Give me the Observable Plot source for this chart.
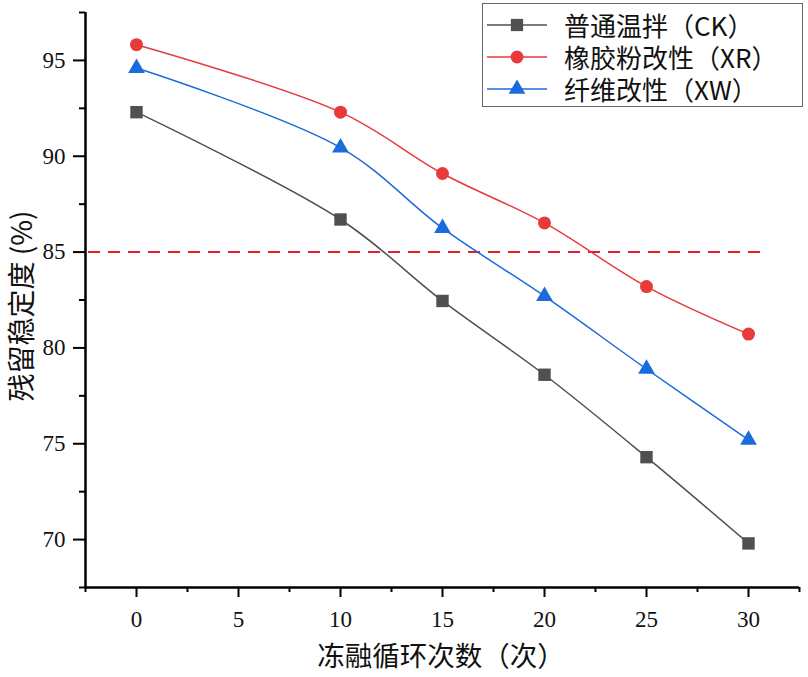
<!DOCTYPE html>
<html>
<head>
<meta charset="utf-8">
<script src="https://cdn.jsdelivr.net/npm/d3@7"></script>
<script src="https://cdn.jsdelivr.net/npm/@observablehq/plot@0.6"></script>
<style>
  body { margin: 0; background: #fff; }
  #wrap { position: relative; width: 808px; height: 677px; }
  #legend { position: absolute; left: 482px; top: 3px; width: 321px; height: 104px; border: 1.5px solid #666; box-sizing: border-box; background: #fff;
    font-family: "Noto Sans CJK SC", sans-serif; font-size: 26px; color: #111; }
  .row { position: absolute; left: 0; height: 30px; display: flex; align-items: center; }
  .row svg { margin-left: 3px; flex: none; }
  .row span { margin-left: 16px; white-space: nowrap; line-height: 28px; display: inline-block; }
</style>
</head>
<body>
<div id="wrap"><div id="chart"></div><div id="legend"></div></div>
<script>
const cycles = [0, 10, 15, 20, 25, 30];
const ckValues = [92.3, 86.7, 82.45, 78.6, 74.3, 69.8];
const xrValues = [95.82, 92.3, 89.1, 86.52, 83.2, 80.72];
const xwValues = [94.6, 90.45, 86.25, 82.7, 78.9, 75.2];
const seriesNames = ["普通温拌（CK）", "橡胶粉改性（XR）", "纤维改性（XW）"];
const seriesColors = ["#505050", "#e8393b", "#1b6bdc"];
const seriesSymbols = ["square", "circle", "triangle"];
const thresholdValue = 85;
const xMajorTicks = [0, 5, 10, 15, 20, 25, 30];
const xMinorTicks = [-2.5, 2.5, 7.5, 12.5, 17.5, 22.5, 27.5, 32.5];
const yMajorTicks = [70, 75, 80, 85, 90, 95];
const yMinorTicks = [67.5, 72.5, 77.5, 82.5, 87.5, 92.5, 97.5];
const xLabel = "冻融循环次数（次）";
const yLabel = "残留稳定度 (%)";

const allSeries = [ckValues, xrValues, xwValues];
const rows = [];
allSeries.forEach((vals, si) => vals.forEach((v, i) => rows.push({series: seriesNames[si], x: cycles[i], y: v})));

const tickFont = "'Liberation Serif', 'DejaVu Serif', serif";
const marks = [
  Plot.ruleY([thresholdValue], {x1: -2.35, x2: 30.65, stroke: "#e31e24", strokeWidth: 2, strokeDasharray: "12,8"}),
];
seriesNames.forEach((name, si) => {
  const d = rows.filter(r => r.series === name);
  marks.push(Plot.line(d, {x: "x", y: "y", stroke: seriesColors[si], strokeWidth: 1.5, curve: "catmull-rom"}));
});
seriesNames.forEach((name, si) => {
  const d = rows.filter(r => r.series === name);
  marks.push(Plot.dot(d, {x: "x", y: "y", fill: seriesColors[si], symbol: () => seriesSymbols[si], r: si === 0 ? 7 : (si === 1 ? 6.5 : 6.2), stroke: "none"}));
});
marks.push(
  Plot.axisX(xMajorTicks, {tickSize: 10, tickPadding: 13, strokeWidth: 2, stroke: "#000", fill: "#111", label: null}),
  Plot.axisX(xMinorTicks, {tickSize: 5, strokeWidth: 2, stroke: "#000", tickFormat: () => "", label: null}),
  Plot.axisY(yMajorTicks, {tickSize: 12, tickPadding: 8, strokeWidth: 2, stroke: "#000", fill: "#111", label: null}),
  Plot.axisY(yMinorTicks, {tickSize: 6, strokeWidth: 2, stroke: "#000", tickFormat: () => "", label: null}),
  Plot.ruleX([-2.5], {stroke: "#000", strokeWidth: 2.5}),
  Plot.ruleY([67.5], {stroke: "#000", strokeWidth: 2.5})
);

const chart = Plot.plot({
  width: 808, height: 677,
  marginLeft: 85, marginRight: 9, marginTop: 12, marginBottom: 90,
  x: {domain: [-2.5, 32.5]},
  y: {domain: [67.5, 97.5]},
  style: {background: "#fff", overflow: "visible"},
  marks
});
document.getElementById("chart").appendChild(chart);

const svg = d3.select(chart);
svg.selectAll("text").filter(function() { return /^\d+$/.test(this.textContent.trim()); })
  .style("font-size", "23px").style("font-family", tickFont).attr("font-size", 23).attr("font-family", tickFont);
svg.append("text").attr("x", 441).attr("y", 666).attr("text-anchor", "middle")
  .attr("font-family", "'Noto Sans CJK SC', sans-serif").attr("font-size", 27.5).attr("fill", "#111").text(xLabel);
svg.append("text").attr("transform", "translate(32,306) rotate(-90)").attr("text-anchor", "middle")
  .attr("font-family", "'Noto Sans CJK SC', sans-serif").attr("font-size", 28).attr("fill", "#111").text(yLabel);

const legend = document.getElementById("legend");
seriesNames.forEach((name, si) => {
  const row = document.createElement("div");
  row.className = "row";
  row.style.top = (6 + si * 32) + "px";
  const sym = d3.symbol(si === 0 ? d3.symbolSquare : si === 1 ? d3.symbolCircle : d3.symbolTriangle, si === 0 ? 150 : si === 1 ? 130 : 120)();
  row.innerHTML = `<svg width="62" height="24"><line x1="1" x2="61" y1="12" y2="12" stroke="${seriesColors[si]}" stroke-width="1.5"/><path d="${sym}" transform="translate(31,12)" fill="${seriesColors[si]}"/></svg><span>${name}</span>`;
  legend.appendChild(row);
});
</script>
</body>
</html>
